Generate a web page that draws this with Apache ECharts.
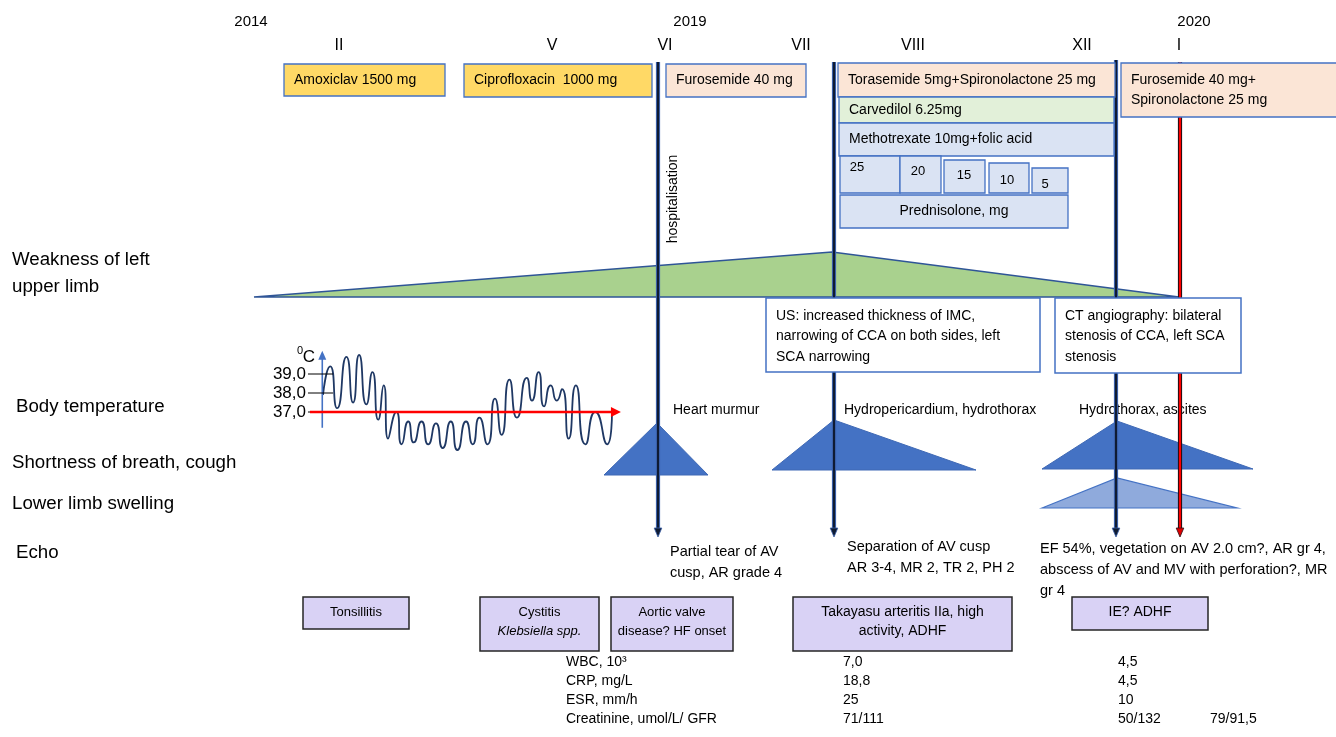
<!DOCTYPE html>
<html>
<head>
<meta charset="utf-8">
<title>Clinical timeline</title>
<script src="https://cdn.jsdelivr.net/npm/echarts@6.0.0/dist/echarts.min.js"></script>
<style>
html,body{margin:0;padding:0;background:#fff;}
#chart{width:1336px;height:737px;}
</style>
</head>
<body>
<div id="chart"></div>
<script>
// ================= DATA =================
const years = ['2014', '2019', '2020'];
const months = ['II', 'V', 'VI', 'VII', 'VIII', 'XII', 'I'];
const rowLabels = ['Weakness of left\nupper limb', 'Body temperature', 'Shortness of breath, cough', 'Lower limb swelling', 'Echo'];
const drugs = ['Amoxiclav 1500 mg', 'Ciprofloxacin  1000 mg', 'Furosemide 40 mg', 'Torasemide 5mg+Spironolactone 25 mg', 'Carvedilol 6.25mg', 'Methotrexate 10mg+folic acid', 'Furosemide 40 mg+\nSpironolactone 25 mg'];
const prednisoloneLabel = 'Prednisolone, mg';
const prednisoloneDoses = [25, 20, 15, 10, 5];
const hospitalisationLabel = 'hospitalisation';
const findings = ['Heart murmur', 'Hydropericardium, hydrothorax', 'Hydrothorax, ascites'];
const imaging = ['US: increased thickness of IMC,\nnarrowing of CCA on both sides, left\nSCA narrowing', 'CT angiography: bilateral\nstenosis of CCA, left SCA\nstenosis'];
const echoFindings = ['Partial tear of AV\ncusp, AR grade 4', 'Separation of AV cusp\nAR 3-4, MR 2, TR 2, PH 2', 'EF 54%, vegetation on AV 2.0 cm?, AR gr 4,\nabscess of AV and MV with perforation?, MR\ngr 4'];
const diagnoses = [['Tonsillitis'], ['Cystitis', 'Klebsiella spp.'], ['Aortic valve', 'disease? HF onset'], ['Takayasu arteritis IIa, high', 'activity, ADHF'], ['IE? ADHF']];
const labNames = ['WBC, 10³', 'CRP, mg/L', 'ESR, mm/h', 'Creatinine, umol/L/ GFR'];
const labAug2019 = ['7,0', '18,8', '25', '71/111'];
const labDec2019 = ['4,5', '4,5', '10', '50/132'];
const labJan2020 = ['', '', '', '79/91,5'];
const tempUnitSup = '0';
const tempUnit = 'C';
const tempTicks = [37, 38, 39];
const tempTime = [0, 2.5, 4.9, 8.1, 10.4, 12.5, 15.0, 17.1, 19.1, 21.0, 22.5, 25.4, 27.2, 29.5, 31.4, 34.1, 36.4, 39.1, 41.4, 44.2, 46.5, 49.5, 51.8, 54.1, 56.9, 59.5, 61.8, 64.5, 67.1, 70.5, 72.3, 74.6, 76.5, 78.8, 80.9, 82.7, 85.0, 87.5, 90.8, 94.2, 98.3, 100];
const tempValues = [37.9, 39.4, 37.2, 39.9, 37.5, 40.0, 37.4, 39.1, 36.6, 38.4, 35.6, 37.0, 35.3, 36.5, 35.4, 36.5, 35.3, 36.4, 35.1, 36.5, 35.0, 36.5, 35.3, 36.7, 35.3, 37.7, 35.8, 38.7, 36.7, 38.8, 37.6, 39.1, 37.3, 38.4, 37.6, 38.2, 35.6, 38.4, 35.3, 37.0, 35.3, 37.0];

// ================= LAYOUT (positions on the timeline / row axes) =================
const yearX = [251, 690, 1194];
const monthX = [339, 552, 665, 801, 913, 1082, 1179];
const drugBoxes = [[284, 64, 445, 96], [464, 64, 652, 97], [666, 64, 806, 97], [838, 63, 1115, 97], [839, 97, 1114, 123], [839, 123, 1114, 156], [1121, 63, 1350, 117]];
const drugFills = ['#FFD966', '#FFD966', '#FBE5D6', '#FBE5D6', '#E2F0D9', '#DAE3F3', '#FBE5D6'];
const doseBoxes = [[840, 156, 900, 193], [900, 156, 941, 193], [944, 160, 985, 193], [989, 163, 1029, 193], [1032, 168, 1068, 193]];
const doseTextPos = [[857, 167], [918, 171], [964, 175], [1007, 180], [1045, 184]];
const predBox = [840, 195, 1068, 228];
const imagingBoxes = [[766, 298, 1040, 372], [1055, 298, 1241, 373]];
const diagBoxes = [[303, 597, 409, 629], [480, 597, 599, 651], [611, 597, 733, 651], [793, 597, 1012, 651], [1072, 597, 1208, 630]];
const diagFontSize = [13, 13, 13, 14, 14];
const rowLabelPos = [[12, 273.5], [16, 407], [12, 463], [12, 504], [16, 553]];
const findingPos = [[673, 410], [844, 410], [1079, 410]];
const echoPos = [[670, 541.5], [847, 536], [1040, 538.5]];
const labNameX = 566, labAugX = 843, labDecX = 1118, labJanX = 1210;
const labRowY = [662, 681, 700, 719];
const vLines = [{x: 658, y1: 62, y2: 537, kind: 'dark'}, {x: 834, y1: 62, y2: 537, kind: 'dark'}, {x: 1116, y1: 60, y2: 537, kind: 'dark'}, {x: 1180, y1: 62, y2: 537, kind: 'red'}];
const weaknessShape = [[254, 297], [832, 252], [1179, 297]];
const dyspnoeaShapes = [[[604, 475], [657, 423], [708, 475]], [[772, 470], [834, 420], [976, 470]], [[1042, 469], [1117, 421], [1253, 469]]];
const swellingShape = [[1042, 508], [1117, 478], [1237, 508]];

const FF = "'Liberation Sans', Arial, Helvetica, sans-serif";

// ---------- build element lists ----------
const shapes = [];
shapes.push({pts: weaknessShape, fill: '#A9D18E', stroke: '#2F5597', lw: 1.6});
dyspnoeaShapes.forEach(p => shapes.push({pts: p, fill: '#4472C4', stroke: '#3F69B5', lw: 1}));
shapes.push({pts: swellingShape, fill: '#8FAADC', stroke: '#4472C4', lw: 1.2});

const texts = [];
years.forEach((t, i) => texts.push({x: yearX[i], y: 22, text: t, size: 15, align: 'center'}));
months.forEach((t, i) => texts.push({x: monthX[i], y: 46, text: t, size: 16, align: 'center'}));
rowLabels.forEach((t, i) => texts.push({x: rowLabelPos[i][0], y: rowLabelPos[i][1], text: t, size: 18.7, lh: 27}));
texts.push({x: 673, y: 199, text: hospitalisationLabel, size: 14, align: 'center', rot: Math.PI / 2});
findings.forEach((t, i) => texts.push({x: findingPos[i][0], y: findingPos[i][1], text: t, size: 14}));
echoFindings.forEach((t, i) => texts.push({x: echoPos[i][0], y: echoPos[i][1], text: t, size: 14.5, lh: 21, va: 'top'}));
labNames.forEach((t, i) => {
  texts.push({x: labNameX, y: labRowY[i], text: t, size: 14});
  texts.push({x: labAugX, y: labRowY[i], text: labAug2019[i], size: 14});
  texts.push({x: labDecX, y: labRowY[i], text: labDec2019[i], size: 14});
  if (labJan2020[i]) texts.push({x: labJanX, y: labRowY[i], text: labJan2020[i], size: 14});
});
texts.push({x: 300, y: 351, text: tempUnitSup, size: 11, align: 'center'});
texts.push({x: 309, y: 357, text: tempUnit, size: 17, align: 'center'});

const boxes = [];
drugs.forEach((t, i) => {
  const b = drugBoxes[i];
  const multi = t.indexOf('\n') >= 0;
  boxes.push({r: b, fill: drugFills[i], stroke: '#4472C4', lw: 1.3,
    text: t, tx: b[0] + 10, ty: multi ? 70.5 : (b[1] + b[3]) / 2, va: multi ? 'top' : 'middle', align: 'left', size: 14, lh: 20});
});
prednisoloneDoses.forEach((d, i) => {
  boxes.push({r: doseBoxes[i], fill: '#DAE3F3', stroke: '#4472C4', lw: 1.3, text: String(d), tx: doseTextPos[i][0], ty: doseTextPos[i][1], align: 'center', va: 'middle', size: 13});
});
boxes.push({r: predBox, fill: '#DAE3F3', stroke: '#4472C4', lw: 1.3, text: prednisoloneLabel, tx: (predBox[0] + predBox[2]) / 2, ty: (predBox[1] + predBox[3]) / 2, align: 'center', va: 'middle', size: 14});
imaging.forEach((t, i) => {
  const b = imagingBoxes[i];
  boxes.push({r: b, fill: '#FFFFFF', stroke: '#4472C4', lw: 1.5, text: t, tx: b[0] + 10, ty: b[1] + 7.5, align: 'left', va: 'top', size: 14, lh: 20.5});
});
diagnoses.forEach((lines, i) => {
  const b = diagBoxes[i];
  const txt = lines.map((l, k) => (k === 1 && i === 1) ? '{it|' + l + '}' : '{n|' + l + '}').join('\n');
  boxes.push({r: b, fill: '#D9D2F5', stroke: '#262626', lw: 1.5, rich: true, text: txt,
    tx: (b[0] + b[2]) / 2, ty: lines.length > 1 ? b[1] + 6 : (b[1] + b[3]) / 2 - 1, align: 'center', va: lines.length > 1 ? 'top' : 'middle', size: diagFontSize[i], lh: 19});
});

function textEl(api, t) {
  const p = api.coord([t.x, t.y]);
  const style = {text: t.text, fill: '#000', fontFamily: FF, fontSize: t.size, align: t.align || 'left', verticalAlign: t.va || 'middle'};
  if (t.lh) style.lineHeight = t.lh;
  if (t.rich) {
    style.rich = {
      n: {fontFamily: FF, fontSize: t.size, fill: '#000', lineHeight: t.lh},
      it: {fontFamily: FF, fontSize: t.size, fill: '#000', fontStyle: 'italic', lineHeight: t.lh}
    };
  }
  return {type: 'text', x: p[0], y: p[1], rotation: t.rot || 0, style: style};
}

const series = [];
// symptom shapes
series.push({
  type: 'custom', name: 'symptoms', xAxisIndex: 0, yAxisIndex: 0, z: 2, silent: true,
  data: shapes.map((s, i) => [i]),
  renderItem: (params, api) => {
    const s = shapes[params.dataIndex];
    return {type: 'polygon', shape: {points: s.pts.map(p => api.coord(p))}, style: {fill: s.fill, stroke: s.stroke, lineWidth: s.lw, lineJoin: 'miter'}};
  }
});
// plain texts
series.push({
  type: 'custom', name: 'texts', xAxisIndex: 0, yAxisIndex: 0, z: 3, silent: true,
  data: texts.map((t, i) => [i]),
  renderItem: (params, api) => textEl(api, texts[params.dataIndex])
});
// vertical event lines with arrows
series.push({
  type: 'custom', name: 'events', xAxisIndex: 0, yAxisIndex: 0, z: 4, silent: true,
  data: vLines.map((v, i) => [i]),
  renderItem: (params, api) => {
    const v = vLines[params.dataIndex];
    const a = api.coord([v.x, v.y1]);
    const b = api.coord([v.x, v.y2]);
    const edge = v.kind === 'red' ? '#2B0F14' : '#3A5FA8';
    const core = v.kind === 'red' ? '#FF0000' : '#0F1B33';
    const headFill = v.kind === 'red' ? '#E00000' : '#0F1B33';
    return {type: 'group', children: [
      {type: 'line', shape: {x1: a[0], y1: a[1], x2: b[0], y2: b[1] - 7}, style: {stroke: edge, lineWidth: 4.2}},
      {type: 'line', shape: {x1: a[0], y1: a[1], x2: b[0], y2: b[1] - 7}, style: {stroke: core, lineWidth: 2}},
      {type: 'polygon', shape: {points: [[b[0] - 3.8, b[1] - 9], [b[0] + 3.8, b[1] - 9], [b[0], b[1]]]}, style: {fill: headFill, stroke: edge, lineWidth: 0.8}}
    ]};
  }
});
// boxes
series.push({
  type: 'custom', name: 'boxes', xAxisIndex: 0, yAxisIndex: 0, z: 5, silent: true,
  data: boxes.map((b, i) => [i]),
  renderItem: (params, api) => {
    const b = boxes[params.dataIndex];
    const p1 = api.coord([b.r[0], b.r[1]]);
    const p2 = api.coord([b.r[2], b.r[3]]);
    return {type: 'group', children: [
      {type: 'rect', shape: {x: p1[0], y: p1[1], width: p2[0] - p1[0], height: p2[1] - p1[1]}, style: {fill: b.fill, stroke: b.stroke, lineWidth: b.lw}},
      textEl(api, {x: b.tx, y: b.ty, text: b.text, size: b.size, align: b.align, va: b.va, lh: b.lh, rich: b.rich})
    ]};
  }
});
// temperature curve
series.push({
  type: 'line', name: 'Body temperature', xAxisIndex: 1, yAxisIndex: 1, z: 3, silent: true,
  data: tempTime.map((t, i) => [t, tempValues[i]]),
  smooth: 0.7, symbol: 'none', clip: false,
  lineStyle: {color: '#1F3864', width: 1.8}
});
// temperature axes (blue arrow, ticks, red 37 line)
series.push({
  type: 'custom', name: 'tempAxes', xAxisIndex: 1, yAxisIndex: 1, z: 6, silent: true, clip: false,
  data: [[0]],
  renderItem: (params, api) => {
    const children = [];
    const bBot = api.coord([-0.25, 36.17]);
    const bTop = api.coord([-0.25, 40.23]);
    children.push({type: 'line', shape: {x1: bBot[0], y1: bBot[1], x2: bTop[0], y2: bTop[1] + 6}, style: {stroke: '#4472C4', lineWidth: 1.6}});
    children.push({type: 'polygon', shape: {points: [[bTop[0] - 4, bTop[1] + 9], [bTop[0] + 4, bTop[1] + 9], [bTop[0], bTop[1]]]}, style: {fill: '#4472C4'}});
    tempTicks.forEach(t => {
      const l = api.coord([-5.2, t]);
      const r = api.coord([3.5, t]);
      children.push({type: 'line', shape: {x1: l[0], y1: l[1], x2: r[0], y2: r[1]}, style: {stroke: '#000', lineWidth: 1}});
    });
    const rs = api.coord([-4.5, tempTicks[0]]);
    const re = api.coord([103.1, tempTicks[0]]);
    children.push({type: 'line', shape: {x1: rs[0], y1: rs[1], x2: re[0] - 8, y2: re[1]}, style: {stroke: '#FF0000', lineWidth: 2.4}});
    children.push({type: 'polygon', shape: {points: [[re[0] - 10, re[1] - 5], [re[0] - 10, re[1] + 5], [re[0], re[1]]]}, style: {fill: '#FF0000'}});
    return {type: 'group', children: children};
  }
});

const chart = echarts.init(document.getElementById('chart'), null, {renderer: 'canvas'});
chart.setOption({
  animation: false,
  backgroundColor: '#ffffff',
  grid: [
    {left: 0, top: 0, width: 1336, height: 737, containLabel: false, outerBoundsMode: 'none'},
    {left: 323, top: 336, width: 289, height: 133, containLabel: false, outerBoundsMode: 'none'}
  ],
  xAxis: [
    {type: 'value', gridIndex: 0, min: 0, max: 1336, show: false},
    {type: 'value', gridIndex: 1, min: 0, max: 100, show: false}
  ],
  yAxis: [
    {type: 'value', gridIndex: 0, min: 0, max: 737, inverse: true, show: false},
    {type: 'value', gridIndex: 1, min: 34, max: 41, interval: 1,
      axisLine: {show: false}, axisTick: {show: false}, splitLine: {show: false},
      axisLabel: {margin: 17, fontSize: 17, color: '#000', fontFamily: FF,
        formatter: v => tempTicks.indexOf(v) >= 0 ? v.toFixed(1).replace('.', ',') : ''}}
  ],
  series: series
});
</script>
</body>
</html>
